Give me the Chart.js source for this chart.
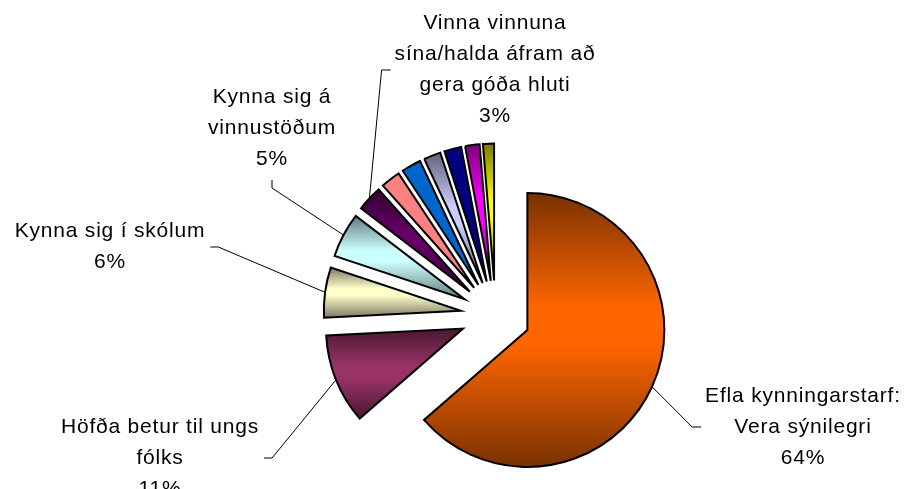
<!DOCTYPE html>
<html>
<head>
<meta charset="utf-8">
<script src="https://cdn.jsdelivr.net/npm/chart.js@4.4.0/dist/chart.umd.min.js"></script>
<style>
    html, body { margin: 0; padding: 0; background: #fff; }
    #wrap { width: 905px; height: 489px; position: relative; }
</style>
</head>
<body>
<div id="wrap"><canvas id="myChart"></canvas></div>
<script>
// slices, clockwise from 12 o'clock (the unlabelled ones have no text in the picture)
const categories = [
    ['Efla kynningarstarf:', 'Vera sýnilegri'],
    ['Höfða betur til ungs', 'fólks'],
    ['Kynna sig í skólum'],
    ['Kynna sig á', 'vinnustöðum'],
    ['Vinna vinnuna', 'sína/halda áfram að', 'gera góða hluti'],
    [], [], [], [], [], []
];
const shares = [63.6, 10.6, 5.9, 5.3, 3.0, 2.3, 2.3, 2.0, 2.0, 1.7, 1.3];
const sliceColors = ['#FF6600', '#993366', '#FFFFCC', '#CCFFFF', '#660066', '#FF8080',
                     '#0066CC', '#CCCCFF', '#000080', '#FF00FF', '#FFFF00'];
// a few slices are plain fills in the original, the rest have the dark-light-dark gradient
const sliceShaded = [true, true, true, true, true, false, false, true, false, true, true];

// where each label block sits and which side its leader line leaves from
const labelSpots = [
    { x: 803, y: 427, side: 'left' },
    { x: 160, y: 458, side: 'right' },
    { x: 110, y: 247, side: 'right' },
    { x: 272, y: 128, side: 'bottom' },
    { x: 495, y: 70, side: 'left' }
];

const RADIUS = 137;
const EXPLODE = 35;
const LINE_H = 31;
const total = shares.reduce((a, b) => a + b, 0);

// chart.js' own offset also widens and narrows the arc, so push every slice
// out by the same distance instead, the way Excel explodes a pie
const baseArcDraw = Chart.ArcElement.prototype.draw;
Chart.ArcElement.prototype.draw = function (ctx) {
    const mid = (this.startAngle + this.endAngle) / 2;
    ctx.save();
    ctx.translate(Math.cos(mid) * EXPLODE, Math.sin(mid) * EXPLODE);
    baseArcDraw.call(this, ctx);
    ctx.restore();
};

function sliceAngles(i) {
    let before = 0;
    for (let k = 0; k < i; k++) before += shares[k];
    const start = -Math.PI / 2 + before / total * 2 * Math.PI;
    return [start, start + shares[i] / total * 2 * Math.PI];
}

function shade(hex, f) {
    const n = parseInt(hex.slice(1), 16);
    const r = Math.round(((n >> 16) & 255) * f);
    const g = Math.round(((n >> 8) & 255) * f);
    const b = Math.round((n & 255) * f);
    return `rgb(${r},${g},${b})`;
}

function crosses(a0, a1, t) {
    return [t - 2 * Math.PI, t, t + 2 * Math.PI].some(v => v >= a0 && v <= a1);
}

// dark - colour - dark, top to bottom of each slice
function sliceFill(context) {
    const i = context.dataIndex;
    const chart = context.chart;
    const area = chart.chartArea;
    if (i === undefined || !area) return sliceColors[0];
    const base = sliceColors[i];
    if (!sliceShaded[i]) return base;
    const cy = (area.top + area.bottom) / 2;
    const [a0, a1] = sliceAngles(i);
    let top = Math.min(cy, cy + Math.sin(a0) * RADIUS, cy + Math.sin(a1) * RADIUS);
    let bottom = Math.max(cy, cy + Math.sin(a0) * RADIUS, cy + Math.sin(a1) * RADIUS);
    if (crosses(a0, a1, -Math.PI / 2)) top = cy - RADIUS;
    if (crosses(a0, a1, Math.PI / 2)) bottom = cy + RADIUS;
    const g = chart.ctx.createLinearGradient(0, top, 0, bottom);
    g.addColorStop(0, shade(base, 0.48));
    g.addColorStop(0.42, base);
    g.addColorStop(0.55, base);
    g.addColorStop(1, shade(base, 0.48));
    return g;
}

const sliceLabels = {
    id: 'sliceLabels',
    afterDatasetsDraw(chart) {
        const ctx = chart.ctx;
        const arcs = chart.getDatasetMeta(0).data;
        ctx.save();
        ctx.font = '21px "Liberation Sans", Arial, sans-serif';
        ctx.letterSpacing = '0.8px';
        ctx.textAlign = 'center';
        ctx.textBaseline = 'middle';
        ctx.fillStyle = '#000';
        ctx.strokeStyle = '#000';
        ctx.lineWidth = 1;
        arcs.forEach((arc, i) => {
            const spot = labelSpots[i];
            if (!spot) return;
            const lines = categories[i].concat(Math.round(shares[i] / total * 100) + '%');
            const half = Math.max(...lines.map(l => ctx.measureText(l).width)) / 2;
            const y0 = spot.y - (lines.length - 1) * LINE_H / 2;
            lines.forEach((l, k) => ctx.fillText(l, spot.x, y0 + k * LINE_H));

            const { x, y, startAngle, endAngle, outerRadius } =
                arc.getProps(['x', 'y', 'startAngle', 'endAngle', 'outerRadius'], true);
            const mid = (startAngle + endAngle) / 2;
            const ex = x + Math.cos(mid) * (EXPLODE + outerRadius);
            const ey = y + Math.sin(mid) * (EXPLODE + outerRadius);

            let sx, sy, tx, ty;
            if (spot.side === 'left') {
                sx = spot.x - half - 4; sy = spot.y; tx = sx - 9; ty = sy;
            } else if (spot.side === 'right') {
                sx = spot.x + half + 5; sy = spot.y; tx = sx + 8; ty = sy;
            } else {
                sx = spot.x; sy = y0 + (lines.length - 1) * LINE_H + 21; tx = sx; ty = sy + 8;
            }
            ctx.beginPath();
            ctx.moveTo(sx, sy);
            ctx.lineTo(tx, ty);
            ctx.lineTo(ex, ey);
            ctx.stroke();
        });
        ctx.restore();
    }
};

new Chart(document.getElementById('myChart'), {
    type: 'pie',
    data: {
        labels: categories,
        datasets: [{
            data: shares,
            backgroundColor: sliceFill,
            borderColor: '#000',
            borderWidth: 2,
            borderJoinStyle: 'miter'
        }]
    },
    options: {
        responsive: true,
        maintainAspectRatio: false,
        animation: false,
        events: [],
        radius: RADIUS,
        layout: { padding: { left: 100, right: 14, top: 150, bottom: 8 } },
        plugins: {
            legend: { display: false },
            tooltip: { enabled: false }
        }
    },
    plugins: [sliceLabels]
});
</script>
</body>
</html>
